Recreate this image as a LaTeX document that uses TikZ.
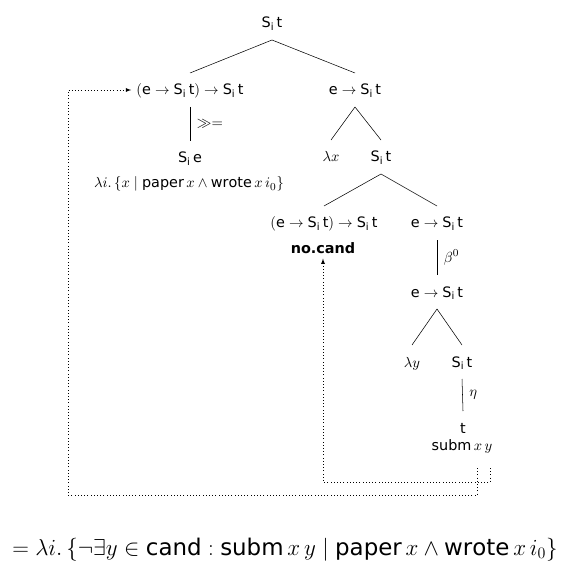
\documentclass[tikz,border=0pt]{standalone}
\usepackage{amsmath,amssymb}
\usepackage{fontspec}
\setsansfont{DejaVu Sans}
\newcommand{\tySt}{\mathsf{S}_{\mathsf{i}}\,\mathsf{t}}
\newcommand{\tySe}{\mathsf{S}_{\mathsf{i}}\,\mathsf{e}}
\newcommand{\tyEt}{\mathsf{e}\to\tySt}
\newcommand{\tyCont}{(\tyEt)\to\tySt}

\begin{document}
\begin{tikzpicture}[
    x=0.75pt, y=-0.75pt,
    ty/.style={inner xsep=1pt,inner ysep=9pt,outer sep=0pt,text height=7.5pt,text depth=0pt,font=\fontsize{10.8}{13}\selectfont},
    sem/.style={inner sep=1pt,text height=7.5pt,text depth=0pt,font=\fontsize{10.8}{13}\selectfont},
    lbl/.style={right,inner sep=1pt,xshift=4pt,font=\fontsize{10.8}{13}\selectfont},
    link/.style={dotted,-latex,shorten >=3pt}
]
\useasboundingbox (0,0) rectangle (560,566);

\node[ty]  (R)    at (272,23)  {$\tySt$};
\node[ty]  (A)    at (190,90)  {$\tyCont$};
\node[ty]  (B)    at (355,90)  {$\tyEt$};
\node[ty]  (C)    at (190,158) {$\tySe$};
\node[sem] (Csem) at (189,183) {$\lambda i.\,\{x\mid\mathsf{paper}\,x\wedge\mathsf{wrote}\,x\,i_0\}$};
\node[ty]  (Lx)   at (331,157) {$\lambda x$};
\node[ty]  (D)    at (381,157) {$\tySt$};
\node[ty]  (E)    at (324,223) {$\tyCont$};
\node[sem] (Esem) at (323,248) {\textsf{\bfseries no.cand}};
\node[ty]  (F)    at (437,223) {$\tyEt$};
\node[ty]  (G)    at (437,292) {$\tyEt$};
\node[ty]  (Ly)   at (412,362) {$\lambda y$};
\node[ty]  (H)    at (462,362) {$\tySt$};
\node[ty]  (I)    at (463,428) {$\mathsf{t}$};
\node[sem] (Isem) at (462,445) {$\mathsf{subm}\,x\,y$};

\node[anchor=base,inner sep=0pt,font=\fontsize{17.2}{20}\selectfont] (Eq) at (285,555)
  {$= \lambda i.\,\{\neg\exists y\in\mathsf{cand} : \mathsf{subm}\,x\,y \mid \mathsf{paper}\,x\wedge\mathsf{wrote}\,x\,i_0\}$};

\draw (R.south) -- (A.north);
\draw (R.south) -- (B.north);
\draw (A.south) -- node[lbl] {$\gg=$} (C.north);
\draw (B.south) -- (Lx.north);
\draw (B.south) -- (D.north);
\draw (D.south) -- (E.north);
\draw (D.south) -- (F.north);
\draw (F.south) -- node[lbl] {$\beta^0$} (G.north);
\draw (G.south) -- (Ly.north);
\draw (G.south) -- (H.north);
\draw (H.south) -- node[lbl] {$\eta$} (I.north);

% scope links
\coordinate (xsrc)    at (477,468);
\coordinate (ysrc)    at (490,468);
\coordinate (lcorner) at (68,495);
\draw[link] (xsrc) |- (lcorner) |- (A.west);
\draw[link] (ysrc) -- ++(0,14) -| (Esem.south);
\end{tikzpicture}
\end{document}
